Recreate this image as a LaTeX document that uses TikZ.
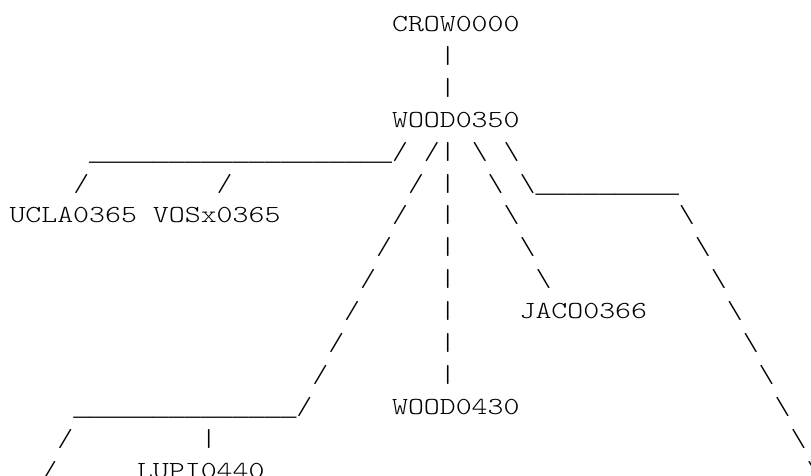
\documentclass[tikz,border=0pt]{standalone}
\usepackage{fontspec}
% light typewriter face, widened so one character cell is 15.94pt
\newfontfamily\asciitt{lmmonolt10-regular.otf}[FakeStretch=1.239]
% underscores that fill the whole cell, same 15.94pt pitch
\newfontfamily\asciirule{Liberation Mono}
\tikzset{
  glyph/.style={anchor=base west, inner sep=0pt, outer sep=0pt, text=black,
    font=\asciitt\fontsize{24.5}{24.5}\selectfont},
  bar/.style={glyph, font=\asciirule\fontsize{26.57}{26.57}\selectfont, yshift=-1pt},
  % place a run of characters at column #1, text line #2
  cell/.style 2 args={at={({9.5+15.94*(#1)},{31.5+31.9*(#2)})}}
}
\newcommand\bs{\textbackslash}
\begin{document}
\begin{tikzpicture}[x=1pt,y=-1pt]
\useasboundingbox (0,0) rectangle (811,475);
% line 0-3: root and first join
\node[glyph, cell={24}{0}] (crow) {CROW0000};
\node[glyph, cell={27}{1}] (v1) {|};
\node[glyph, cell={27}{2}] (v2) {|};
\node[glyph, cell={24}{3}] (wood350) {WOOD0350};
% line 4
\node[bar,   cell={5}{4}]  (h1) {\_\_\_\_\_\_\_\_\_\_\_\_\_\_\_\_\_\_\_};
\node[glyph, cell={24}{4}] (a4) {/};
\node[glyph, cell={26}{4}] (b4) {/};
\node[glyph, cell={27}{4}] (v4) {|};
\node[glyph, cell={29}{4}] (c4) {\bs};
\node[glyph, cell={31}{4}] (d4) {\bs};
% line 5
\node[glyph, cell={4}{5}]  (u5) {/};
\node[glyph, cell={13}{5}] (w5) {/};
\node[glyph, cell={25}{5}] (b5) {/};
\node[glyph, cell={27}{5}] (v5) {|};
\node[glyph, cell={30}{5}] (c5) {\bs};
\node[glyph, cell={32}{5}] (d5) {\bs};
\node[bar,   cell={33}{5}] (h2) {\_\_\_\_\_\_\_\_\_};
% line 6
\node[glyph, cell={0}{6}]  (ucla) {UCLA0365};
\node[glyph, cell={9}{6}]  (vosx) {VOSx0365};
\node[glyph, cell={24}{6}] (b6) {/};
\node[glyph, cell={27}{6}] (v6) {|};
\node[glyph, cell={31}{6}] (c6) {\bs};
\node[glyph, cell={42}{6}] (d6) {\bs};
% line 7-8
\node[glyph, cell={23}{7}] (b7) {/};
\node[glyph, cell={27}{7}] (v7) {|};
\node[glyph, cell={32}{7}] (c7) {\bs};
\node[glyph, cell={43}{7}] (d7) {\bs};
\node[glyph, cell={22}{8}] (b8) {/};
\node[glyph, cell={27}{8}] (v8) {|};
\node[glyph, cell={33}{8}] (c8) {\bs};
\node[glyph, cell={44}{8}] (d8) {\bs};
% line 9
\node[glyph, cell={21}{9}] (b9) {/};
\node[glyph, cell={27}{9}] (v9) {|};
\node[glyph, cell={32}{9}] (jaco) {JACO0366};
\node[glyph, cell={45}{9}] (d9) {\bs};
% line 10-11
\node[glyph, cell={20}{10}] (b10) {/};
\node[glyph, cell={27}{10}] (v10) {|};
\node[glyph, cell={46}{10}] (d10) {\bs};
\node[glyph, cell={19}{11}] (b11) {/};
\node[glyph, cell={27}{11}] (v11) {|};
\node[glyph, cell={47}{11}] (d11) {\bs};
% line 12
\node[bar,   cell={4}{12}]  (h3) {\_\_\_\_\_\_\_\_\_\_\_\_\_\_};
\node[glyph, cell={18}{12}] (b12) {/};
\node[glyph, cell={24}{12}] (wood430) {WOOD0430};
\node[glyph, cell={48}{12}] (d12) {\bs};
% line 13-14
\node[glyph, cell={3}{13}]  (e13) {/};
\node[glyph, cell={12}{13}] (f13) {|};
\node[glyph, cell={49}{13}] (d13) {\bs};
\node[glyph, cell={2}{14}]  (e14) {/};
\node[glyph, cell={8}{14}]  (lupi) {LUPI0440};
\node[glyph, cell={50}{14}] (d14) {\bs};
\end{tikzpicture}
\end{document}
